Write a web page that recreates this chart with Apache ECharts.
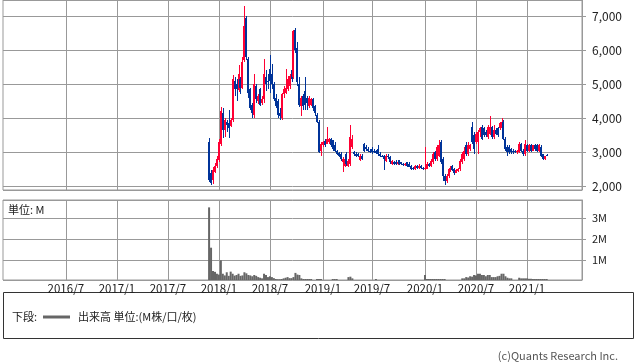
<!DOCTYPE html>
<html><head><meta charset="utf-8">
<script src="https://cdn.jsdelivr.net/npm/echarts@6/dist/echarts.min.js"></script>
<style>html,body{margin:0;padding:0;background:#fff}#c{width:638px;height:362px}</style>
</head><body><div id="c"></div><script>
// weekly axis (Mondays) and first data week
const axisStart = '2015-11-23';
const axisEnd = '2021-07-19';
const dataStart = '2017-11-27';
const tickLabels = ['2016/7','2017/1','2017/7','2018/1','2018/7','2019/1','2019/7','2020/1','2020/7','2021/1'];

const open = [3310,2400,2190,2430,2600,2780,3250,4150,3650,3900,3850,3780,3950,5100,5000,4820,5150,4900,5700,6950,
5750,4850,4400,4100,4950,4500,4850,4450,4550,5200,5100,5450,5300,5000,4600,4500,4150,4000,4700,4750,
4850,4950,5400,5200,6600,6050,5000,4350,4650,4800,4600,4350,4400,4550,4350,4100,3900,3050,3200,3320,
3250,3300,3400,3350,3200,3050,2980,2950,2700,2600,2950,2600,2650,3150,3000,2950,2950,2770,2900,3250,
3150,3100,3050,3100,3050,3050,3100,2950,2900,2900,2750,2900,2850,2650,2720,2720,2640,2760,2700,2650,
2620,2700,2650,2600,2550,2500,2600,2550,2600,2550,2500,2520,2650,2600,2700,3000,2800,2900,3300,2800,
2300,2150,2300,2450,2600,2500,2400,2450,2500,2700,2800,3200,2950,3100,3750,3500,3300,3300,3600,3750,
3700,3600,3450,3550,3750,3450,3650,3700,3700,3700,3900,3400,3150,3150,3100,3050,3050,3000,3000,3250,
3050,2950,3200,3050,3200,3050,3200,3200,3050,3150,2950,2800,2920];
const close = [2190,2110,2480,2600,2810,3300,4200,3650,3950,3800,3700,3950,5150,4850,4850,5300,4900,5650,6700,5800,
4750,4300,4150,5000,4550,4650,4400,4550,5300,5000,5050,5100,5000,4550,4350,4100,4050,4700,4850,4900,
5150,5250,5150,6550,6000,5050,4400,4600,4350,4400,4450,4600,4550,4300,4150,3900,3000,3250,3300,3200,
3400,3400,3200,3100,3050,2950,2900,2800,2800,2800,2650,2750,3450,3400,2950,2900,2880,2900,2800,3050,
3100,3050,3000,3000,3000,2980,2950,2880,2880,2800,2900,2850,2700,2750,2650,2650,2720,2650,2650,2620,
2660,2600,2580,2500,2500,2600,2550,2600,2550,2500,2550,2650,2600,2750,2950,2800,3150,3200,2700,2300,
2150,2300,2500,2550,2480,2380,2480,2500,2750,2950,3050,2950,3200,3200,3300,3100,3550,3600,3700,3400,
3500,3500,3750,3750,3450,3650,3550,3500,3850,3900,3400,3100,3000,3000,3000,3000,3000,3050,3250,3050,
2950,3250,3050,3200,3050,3200,3100,3050,3200,2900,2800,2880,2900];
const low = [2120,2040,2060,2400,2540,2700,3170,3420,3450,3600,3420,3750,3900,4650,4500,4780,4700,4850,5650,5700,
4600,4250,4000,4000,4450,4430,4350,4400,4450,4800,4850,4750,4850,4500,4300,4000,3950,3950,4600,4700,
4800,4850,5050,5150,5900,4950,4330,4050,4250,4250,4250,4300,4350,4200,4050,3850,2980,2900,3150,3150,
3250,3250,3150,3050,3000,2920,2850,2750,2430,2580,2600,2580,2600,3100,2900,2850,2850,2750,2760,3000,
3050,3000,2970,2960,2980,2950,2900,2850,2850,2480,2700,2800,2650,2620,2620,2620,2620,2620,2620,2600,
2600,2560,2560,2480,2480,2480,2520,2520,2520,2470,2480,2500,2560,2580,2650,2750,2750,2850,2650,2150,
2030,2100,2250,2420,2450,2330,2380,2420,2450,2650,2750,2900,2900,3050,3250,2950,3250,2950,3450,3350,
3450,3450,3400,3500,3400,3400,3500,3450,3650,3650,3350,3050,2900,2950,2950,2950,2970,2960,2980,3000,
2900,2900,3000,3000,3000,3030,3050,3000,3000,2870,2760,2780,2880];
const high = [3410,2480,2560,2680,2880,3380,4340,4300,4000,3960,4250,4000,5270,5220,5150,5560,5200,5800,7300,7000,
5800,4900,4450,5300,5000,4700,4900,4650,5750,5400,5300,5850,5600,5050,4700,4550,4300,4750,4950,5450,
5250,5300,5450,6600,6650,6250,5200,4650,4700,5220,4650,4650,4600,4600,4400,4150,3950,3300,3330,3400,
3750,3420,3420,3370,3300,3080,3000,3000,2850,2850,3000,2800,3800,3500,3050,3000,2980,2950,2950,3280,
3200,3150,3100,3150,3100,3080,3200,3000,2920,2920,2950,2950,2900,2770,2750,2760,2750,2780,2720,2680,
2680,2720,2700,2620,2570,2630,2630,2640,2620,2570,3150,2700,2680,2800,3000,3050,3200,3350,3350,2850,
2350,2350,2550,2600,2620,2550,2520,2550,2800,3000,3150,3300,3300,3250,3900,3600,3600,3650,3750,3800,
3750,3650,3800,4050,3780,3800,3700,3750,3900,4000,3950,3450,3200,3200,3130,3100,3080,3080,3300,3280,
3100,3350,3250,3250,3250,3220,3250,3250,3250,3200,2960,2900,2940];
// volume in millions
const volume = [3.52,1.6,0.49,0.45,0.36,0.32,1.0,0.36,0.28,0.43,0.26,0.46,0.36,0.27,0.3,0.36,0.26,0.28,0.43,0.38,
0.3,0.28,0.24,0.3,0.26,0.2,0.17,0.14,0.36,0.3,0.2,0.24,0.2,0.15,0.11,0.1,0.1,0.11,0.14,0.17,
0.2,0.15,0.15,0.2,0.4,0.32,0.3,0.14,0.11,0.11,0.11,0.11,0.11,0.04,0.04,0.11,0.11,0.11,0.04,0.04,
0.04,0.04,0.04,0.11,0.11,0.11,0.04,0.04,0.04,0.04,0.04,0.2,0.22,0.14,0.04,0.04,0.04,0.04,0.04,0.04,
0.04,0.04,0.04,0.04,0.04,0.11,0.04,0.04,0.04,0.04,0.04,0.04,0.04,0.04,0.04,0.04,0.04,0.04,0.04,0.04,
0.04,0.04,0.04,0.04,0.04,0.04,0.04,0.04,0.04,0.04,0.3,0.11,0.11,0.11,0.11,0.11,0.11,0.11,0.11,0.11,
0.11,0.04,0.04,0.04,0.04,0.04,0.04,0.04,0.04,0.14,0.14,0.2,0.18,0.24,0.22,0.3,0.28,0.36,0.36,0.3,
0.3,0.24,0.3,0.3,0.2,0.2,0.2,0.24,0.26,0.36,0.36,0.24,0.17,0.14,0.14,0.04,0.04,0.04,0.17,0.14,
0.14,0.14,0.14,0.12,0.12,0.11,0.11,0.11,0.11,0.11,0.11,0.11,0.11];

const UP = '#ff0033', DOWN = '#003399', GRIDC = '#999999', TXT = '#222222';
const FONT = '"Noto Sans CJK JP", "Noto Sans", sans-serif';

// build weekly category axis
const weeks = [];
{
  let t = Date.parse(axisStart + 'T00:00:00Z');
  const end = Date.parse(axisEnd + 'T00:00:00Z');
  while (t <= end) { weeks.push(new Date(t).toISOString().slice(0, 10)); t += 7 * 86400000; }
}
const tickSet = new Set(tickLabels);
function labelOf(w) {
  const y = +w.slice(0, 4), m = +w.slice(5, 7), d = +w.slice(8, 10);
  if (d > 7) return '';
  const s = y + '/' + m;
  return tickSet.has(s) ? s : '';
}
const isTick = (idx, val) => labelOf(val) !== '';
const offset = weeks.indexOf(dataStart);

const candleData = open.map((o, i) => [offset + i, o, close[i], low[i], high[i]]);
const volData = weeks.map((w, k) => {
  const i = k - offset;
  return (i >= 0 && i < volume.length) ? volume[i] : '-';
});

function renderCandle(params, api) {
  const idx = api.value(0);
  const o = api.value(1), c = api.value(2), l = api.value(3), h = api.value(4);
  const x = api.coord([idx, o])[0];
  const yo = api.coord([idx, o])[1], yc = api.coord([idx, c])[1];
  const yl = api.coord([idx, l])[1], yh = api.coord([idx, h])[1];
  const color = c >= o ? UP : DOWN;
  const xl = Math.round(x) - 1;
  const bt = Math.round(Math.min(yo, yc)), bb = Math.max(Math.round(Math.max(yo, yc)), bt + 1);
  const wt = Math.round(yh), wb = Math.max(Math.round(yl), wt + 1);
  return {
    type: 'group',
    children: [
      {type: 'rect', shape: {x: xl + 1, y: wt, width: 1, height: wb - wt}, style: {fill: color}},
      {type: 'rect', shape: {x: xl, y: bt, width: 2, height: bb - bt}, style: {fill: color}}
    ]
  };
}

const chart = echarts.init(document.getElementById('c'), null, {renderer: 'canvas'});
const xCommon = {
  type: 'category', data: weeks, boundaryGap: false,
  axisLine: {show: false}, axisTick: {show: false},
  splitLine: {show: true, interval: isTick, lineStyle: {color: GRIDC, width: 1}}
};
chart.setOption({
  animation: false,
  backgroundColor: '#ffffff',
  grid: [
    {left: 3, top: 0, width: 579, height: 190, show: true, borderColor: GRIDC, borderWidth: 1},
    {left: 3, top: 200, width: 579, height: 80, show: true, borderColor: GRIDC, borderWidth: 1}
  ],
  xAxis: [
    Object.assign({}, xCommon, {gridIndex: 0, axisLabel: {show: false}}),
    Object.assign({}, xCommon, {gridIndex: 1, axisLabel: {show: true, interval: isTick, formatter: labelOf,
      margin: 3, fontSize: 11.5, color: TXT, fontFamily: FONT}})
  ],
  yAxis: [
    {type: 'value', gridIndex: 0, position: 'right', min: 1891, max: 7470, splitNumber: 5,
     axisLine: {show: true, lineStyle: {color: GRIDC}},
     axisTick: {show: true, length: 4, lineStyle: {color: GRIDC}},
     axisLabel: {margin: 10, fontSize: 12, color: TXT, fontFamily: FONT, showMinLabel: false, showMaxLabel: false,
       formatter: v => (v % 1000 === 0) ? v.toLocaleString('en-US') : ''},
     splitLine: {show: true, lineStyle: {color: GRIDC, width: 1}}},
    {type: 'value', gridIndex: 1, position: 'right', min: 0.062, max: 3.871, splitNumber: 5,
     axisLine: {show: true, lineStyle: {color: GRIDC}},
     axisTick: {show: true, length: 4, lineStyle: {color: GRIDC}},
     axisLabel: {margin: 10, fontSize: 11, color: TXT, fontFamily: FONT, showMinLabel: false, showMaxLabel: false,
       formatter: v => (Math.abs(v - Math.round(v)) < 1e-9 && v > 0) ? Math.round(v) + 'M' : ''},
     splitLine: {show: true, lineStyle: {color: GRIDC, width: 1}}}
  ],
  series: [
    {type: 'custom', xAxisIndex: 0, yAxisIndex: 0, data: candleData,
     dimensions: ['week', 'open', 'close', 'lowest', 'highest'],
     encode: {x: 0, y: [1, 2, 3, 4]},
     renderItem: renderCandle, clip: true, silent: true},
    {type: 'bar', xAxisIndex: 1, yAxisIndex: 1, data: volData, barWidth: 2,
     itemStyle: {color: '#666666'}, emphasis: {disabled: true}, silent: true}
  ],
  graphic: [
    {type: 'text', x: 8, y: 210, silent: true,
     style: {text: '単位: M', fill: TXT, font: '11px ' + FONT, verticalAlign: 'middle'}},
    {type: 'rect', silent: true, shape: {x: 3.5, y: 292.5, width: 630, height: 46},
     style: {fill: 'none', stroke: '#333333', lineWidth: 1}},
    {type: 'text', x: 12, y: 317, silent: true,
     style: {text: '下段:', fill: TXT, font: '11px ' + FONT, verticalAlign: 'middle'}},
    {type: 'line', silent: true, shape: {x1: 43, y1: 317, x2: 70, y2: 317},
     style: {stroke: '#666666', lineWidth: 3}},
    {type: 'text', x: 78, y: 317, silent: true,
     style: {text: '出来高 単位:(M株/口/枚)', fill: TXT, font: '11px ' + FONT, verticalAlign: 'middle'}},
    {type: 'text', x: 618, y: 356, silent: true,
     style: {text: '(c)Quants Research Inc.', fill: '#555555', font: '11px ' + FONT, align: 'right', verticalAlign: 'middle'}}
  ]
});
</script></body></html>
